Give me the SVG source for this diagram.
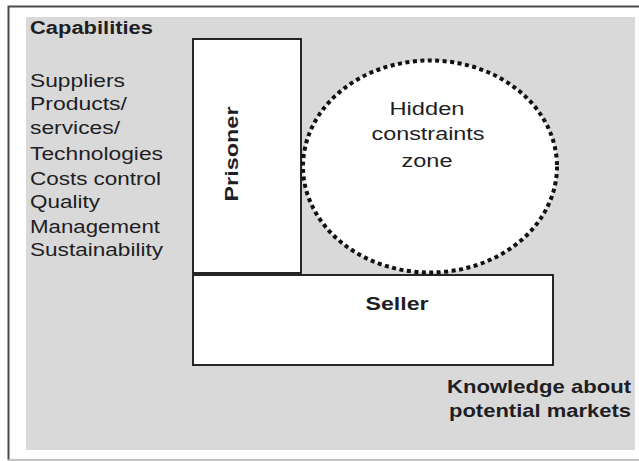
<svg xmlns="http://www.w3.org/2000/svg" width="639" height="461" viewBox="0 0 639 461">
  <style>
    .t { font-family: "Liberation Sans", Arial, sans-serif; fill: #1e1e24; }
    .list { font-size: 17.5px; }
    .b { font-weight: bold; }
    .box { fill: #ffffff; stroke: #111111; stroke-width: 1.8; }
  </style>
  <!-- page background and frame -->
  <rect x="0" y="0" width="639" height="461" fill="#ffffff"/>
  <path d="M 639 6.5 H 8.5 V 460" fill="none" stroke="#4a4a4a" stroke-width="2"/>
  <line x1="8" y1="460" x2="639" y2="460" stroke="#b0b0b0" stroke-width="1.5"/>
  <rect x="26" y="17" width="609" height="433" fill="#d9d9d9"/>

  <!-- capabilities list -->
  <g id="capabilities">
    <text class="t b" x="30" y="34" font-size="17.5" textLength="123" lengthAdjust="spacingAndGlyphs">Capabilities</text>
    <text class="t list" x="30" y="87" textLength="95" lengthAdjust="spacingAndGlyphs">Suppliers</text>
    <text class="t list" x="30" y="110" textLength="97" lengthAdjust="spacingAndGlyphs">Products/</text>
    <text class="t list" x="30" y="134" textLength="90" lengthAdjust="spacingAndGlyphs">services/</text>
    <text class="t list" x="30" y="160" textLength="133" lengthAdjust="spacingAndGlyphs">Technologies</text>
    <text class="t list" x="30" y="185" textLength="131" lengthAdjust="spacingAndGlyphs">Costs control</text>
    <text class="t list" x="30" y="208" textLength="70" lengthAdjust="spacingAndGlyphs">Quality</text>
    <text class="t list" x="30" y="233" textLength="130" lengthAdjust="spacingAndGlyphs">Management</text>
    <text class="t list" x="30" y="256" textLength="133" lengthAdjust="spacingAndGlyphs">Sustainability</text>
  </g>

  <!-- prisoner column -->
  <g id="prisoner">
    <rect class="box" x="193" y="39" width="108" height="234"/>
    <text class="t b" font-size="19" transform="translate(238 154) rotate(-90)" text-anchor="middle" textLength="95" lengthAdjust="spacingAndGlyphs">Prisoner</text>
  </g>

  <!-- seller bar -->
  <g id="seller">
    <rect class="box" x="193" y="275" width="360" height="90"/>
    <text class="t b" x="397" y="310" font-size="19" text-anchor="middle" textLength="63" lengthAdjust="spacingAndGlyphs">Seller</text>
  </g>

  <!-- hidden constraints zone -->
  <g id="hidden-zone">
    <ellipse cx="430" cy="166.5" rx="127" ry="106" fill="#ffffff" stroke="#111111" stroke-width="4" stroke-dasharray="4 3.5"/>
    <text class="t list" x="427" y="115" text-anchor="middle" textLength="75" lengthAdjust="spacingAndGlyphs">Hidden</text>
    <text class="t list" x="428" y="140" text-anchor="middle" textLength="113" lengthAdjust="spacingAndGlyphs">constraints</text>
    <text class="t list" x="427" y="167" text-anchor="middle" textLength="51" lengthAdjust="spacingAndGlyphs">zone</text>
  </g>

  <!-- market knowledge caption -->
  <g id="knowledge">
    <text class="t b" x="631" y="393" font-size="19" text-anchor="end" textLength="184" lengthAdjust="spacingAndGlyphs">Knowledge about</text>
    <text class="t b" x="631" y="417" font-size="19" text-anchor="end" textLength="182" lengthAdjust="spacingAndGlyphs">potential markets</text>
  </g>

  <g id="connectors"/>
</svg>
